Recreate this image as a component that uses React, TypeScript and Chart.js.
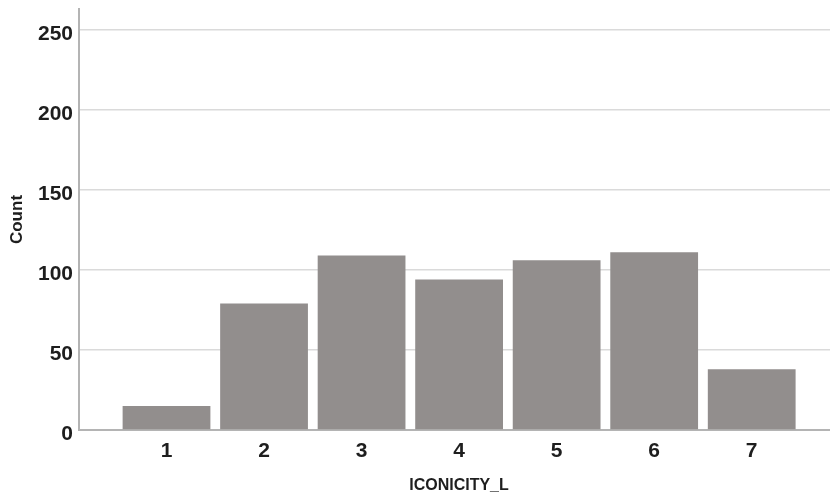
import React, { useEffect, useRef } from "react";
import { Chart, registerables } from "chart.js";

Chart.register(...registerables);

const categories = [1, 2, 3, 4, 5, 6, 7];
const counts = [15, 79, 109, 94, 106, 111, 38];
const yTicks = [0, 50, 100, 150, 200, 250];
const xTitle = "ICONICITY_L";
const yTitle = "Count";

const FONT = "Liberation Sans, Arial, sans-serif";

export default function App() {
  const ref = useRef<HTMLCanvasElement | null>(null);

  useEffect(() => {
    if (!ref.current) return;
    const chart = new Chart(ref.current, {
      type: "bar",
      data: {
        datasets: [
          {
            data: categories.map((c, i) => ({ x: c, y: counts[i] })),
            backgroundColor: "#928e8d",
            borderWidth: 0,
            barPercentage: 0.9,
            categoryPercentage: 1,
          },
        ],
      },
      options: {
        animation: false,
        responsive: false,
        maintainAspectRatio: false,
        layout: { padding: { top: 9, right: 1, bottom: 0, left: 0 } },
        plugins: { legend: { display: false }, tooltip: { enabled: false } },
        scales: {
          x: {
            type: "linear",
            offset: false,
            bounds: "data",
            min: 0.1028,
            max: 7.895,
            afterBuildTicks: (axis: any) => {
              axis.ticks = categories.map((v) => ({ value: v }));
            },
            afterFit: (axis: any) => {
              axis.height = 65;
              axis.paddingLeft = 0;
              axis.paddingRight = 0;
            },
            grid: { display: false, drawTicks: false },
            border: { display: true, color: "#b4b4b4", width: 2 },
            ticks: {
              padding: 9,
              color: "#1e1e1e",
              font: { family: FONT, size: 21, weight: "bold" },
              autoSkip: false,
              maxRotation: 0,
              callback: (v: any) => String(v),
            },
            title: {
              display: true,
              text: xTitle,
              color: "#1e1e1e",
              font: { family: FONT, size: 16, weight: "bold" },
              padding: { top: 13, bottom: 0 },
            },
          },
          y: {
            min: 0,
            max: 263,
            afterBuildTicks: (axis: any) => {
              axis.ticks = yTicks.map((v) => ({ value: v }));
            },
            afterFit: (axis: any) => {
              axis.width = 79;
              axis.paddingTop = 0;
              axis.paddingBottom = 0;
            },
            grid: { color: "#dadada", lineWidth: 1.5, drawTicks: false },
            border: { display: true, color: "#b4b4b4", width: 2 },
            ticks: {
              padding: 6,
              labelOffset: 4,
              color: "#1e1e1e",
              font: { family: FONT, size: 21, weight: "bold" },
            },
            title: {
              display: true,
              text: yTitle,
              color: "#1e1e1e",
              font: { family: FONT, size: 17, weight: "bold" },
              padding: { top: 7, bottom: 9 },
            },
          },
        },
      },
    });
    return () => chart.destroy();
  }, []);

  return (
    <div style={{ position: "fixed", left: 0, top: 0, width: 840, height: 495, background: "#fff" }}>
      <canvas ref={ref} width={840} height={495} style={{ width: 840, height: 495 }} />
    </div>
  );
}
